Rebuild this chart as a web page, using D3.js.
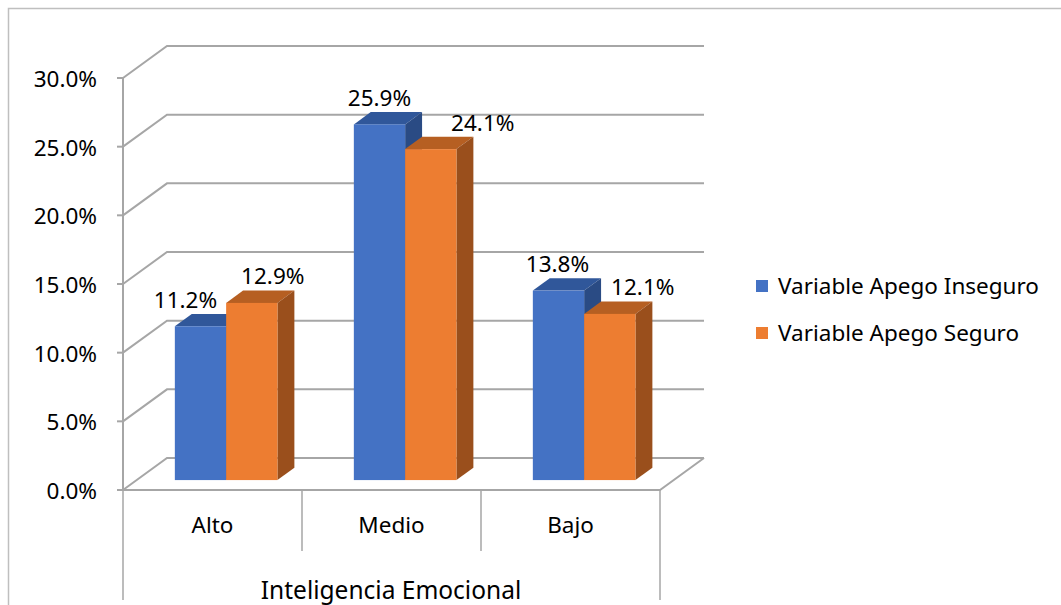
<!DOCTYPE html>
<html><head><meta charset="utf-8">
<script src="https://cdn.jsdelivr.net/npm/d3@7"></script>
<style>body{margin:0;background:#fff}svg{display:block}text{font-family:"Noto Sans",sans-serif;fill:#000}</style>
</head><body>
<svg id="c" width="1061" height="605"></svg>
<script>
const categories = ["Alto", "Medio", "Bajo"];
const seriesNames = ["Variable Apego Inseguro", "Variable Apego Seguro"];
const inseguro = [11.2, 25.9, 13.8];
const seguro = [12.9, 24.1, 12.1];
const yTicks = [0, 5, 10, 15, 20, 25, 30];
const axisTitle = "Inteligencia Emocional";

const series = [inseguro, seguro];
const frontCol = ["#4472C4", "#ED7D31"];
const topCol = ["#30579A", "#B65F22"];
const sideCol = ["#2A4B84", "#9A4F1C"];
const labelDx = [[-15, 21], [0, 52], [-1, 33]];
const FS = "22.5px";

const svg = d3.select("#c");
const gridCol = "#A6A6A6";

// outer border
svg.append("rect").attr("x", 8.5).attr("y", 8.5).attr("width", 1100).attr("height", 700)
  .attr("fill", "none").attr("stroke", "#BFBFBF").attr("stroke-width", 1.5);

const X0 = 123, X1 = 660, DX = 44, DY = -32;
const y = d3.scaleLinear().domain([0, 30]).range([490, 78]);
const x = d3.scaleBand().domain(categories).range([X0, X1]);
const barGroup = 102.6;
const xs = d3.scaleBand().domain(d3.range(series.length)).range([0, barGroup]);
const fFront = 0.31, fDepth = 0.385;

// walls / gridlines
const g = svg.append("g").attr("fill", "none").attr("stroke", gridCol).attr("stroke-width", 2);
yTicks.forEach(t => {
  const yy = y(t);
  g.append("path").attr("d", `M${X0},${yy}L${X0 + DX},${yy + DY}L${X1 + DX},${yy + DY}`);
  g.append("line").attr("x1", X0 - 6).attr("x2", X0).attr("y1", yy).attr("y2", yy);
});
g.append("path").attr("d", `M${X0},${y(0)}L${X1},${y(0)}L${X1 + DX},${y(0) + DY}`);
g.append("line").attr("x1", X0).attr("x2", X0).attr("y1", y(30)).attr("y2", y(0));

// category separators
const sep = svg.append("g").attr("stroke", "#A6A6A6").attr("stroke-width", 1.5);
const bounds = categories.map(c => x(c)).concat([X1]);
bounds.forEach((bx, i) => {
  const outer = i === 0 || i === bounds.length - 1;
  sep.append("line").attr("x1", bx).attr("x2", bx).attr("y1", y(0)).attr("y2", outer ? 600 : 551);
});

// y tick labels
svg.append("g").selectAll("text").data(yTicks).join("text")
  .attr("x", 97).attr("y", d => y(d) + 1).attr("dy", "0.35em").attr("text-anchor", "end")
  .style("font-size", FS).text(d => d.toFixed(1) + "%");

// bars
const ox = fFront * DX, oy = fFront * DY, bdx = fDepth * DX, bdy = fDepth * DY;
const bars = svg.append("g");
categories.forEach((c, ci) => {
  const cx = x(c) + x.bandwidth() / 2 - barGroup / 2 + ox;
  series.forEach((s, si) => {
    const v = s[ci];
    const xl = cx + xs(si), xr = xl + xs.bandwidth();
    const yt = y(v) + oy, yb = y(0) + oy;
    bars.append("path").attr("fill", topCol[si])
      .attr("d", `M${xl},${yt}L${xr},${yt}L${xr + bdx},${yt + bdy}L${xl + bdx},${yt + bdy}Z`);
    bars.append("path").attr("fill", sideCol[si])
      .attr("d", `M${xr},${yt}L${xr + bdx},${yt + bdy}L${xr + bdx},${yb + bdy}L${xr},${yb}Z`);
    bars.append("rect").attr("fill", frontCol[si]).attr("x", xl).attr("y", yt)
      .attr("width", xr - xl).attr("height", yb - yt);
  });
});
// labels
categories.forEach((c, ci) => {
  const cx = x(c) + x.bandwidth() / 2 - barGroup / 2 + ox;
  series.forEach((s, si) => {
    const v = s[ci];
    const xm = cx + xs(si) + xs.bandwidth() / 2 + labelDx[ci][si];
    const yt = y(v) + oy + bdy;
    svg.append("text").attr("x", xm).attr("y", yt - 14).attr("dy", "0.35em")
      .attr("text-anchor", "middle").style("font-size", FS).text(v.toFixed(1) + "%");
  });
});

// category labels
svg.append("g").selectAll("text").data(categories).join("text")
  .attr("x", d => x(d) + x.bandwidth() / 2).attr("y", 525).attr("dy", "0.35em")
  .attr("text-anchor", "middle").style("font-size", FS).text(d => d);

svg.append("text").attr("x", 391).attr("y", 590).attr("dy", "0.35em").attr("text-anchor", "middle")
  .style("font-size", "24.5px").text(axisTitle);

// legend
const leg = svg.append("g");
seriesNames.forEach((n, i) => {
  const ly = 286 + i * 47;
  leg.append("rect").attr("x", 756).attr("y", ly - 6).attr("width", 12).attr("height", 12).attr("fill", frontCol[i]);
  leg.append("text").attr("x", 778).attr("y", ly).attr("dy", "0.35em").style("font-size", FS).text(n);
});
</script>
</body></html>
